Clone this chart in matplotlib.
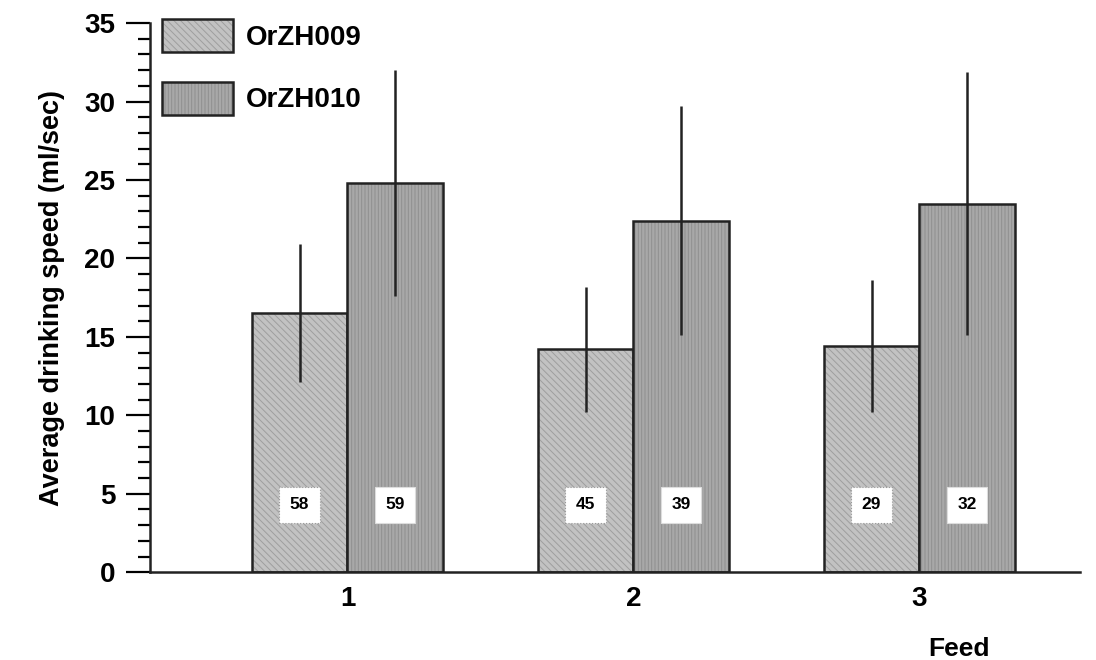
import numpy as np
import matplotlib.pyplot as plt

plt.rcParams['font.family'] = ['Liberation Sans', 'DejaVu Sans']
plt.rcParams['font.weight'] = 'bold'
plt.rcParams['axes.labelweight'] = 'bold'
plt.rcParams['hatch.linewidth'] = 0.7

# Data
feeds = ['1', '2', '3']
orzh009_mean = [16.5, 14.2, 14.4]
orzh009_sd = [4.4, 4.0, 4.2]
orzh010_mean = [24.8, 22.4, 23.5]
orzh010_sd = [7.2, 7.3, 8.4]
orzh009_n = [58, 45, 29]
orzh010_n = [59, 39, 32]

x = np.arange(1, len(feeds) + 1)
w = 0.335

fig = plt.figure(figsize=(10.96, 6.6), dpi=100)
ax = fig.add_axes([0.137, 0.133, 0.848, 0.832])

b1 = ax.bar(x - w / 2, orzh009_mean, w, color='#c2c2c2', edgecolor='#222222',
            hatch='\\\\\\\\\\', linewidth=1.8, label='OrZH009')
b2 = ax.bar(x + w / 2, orzh010_mean, w, color='#a8a8a8', edgecolor='#222222',
            hatch='|||||', linewidth=1.8, label='OrZH010')
# softer hatch lines
for p in b1:
    p._hatch_color = (0.62, 0.62, 0.62, 1.0)
for p in b2:
    p._hatch_color = (0.56, 0.56, 0.56, 1.0)

ax.errorbar(x - w / 2, orzh009_mean, yerr=orzh009_sd, fmt='none',
            ecolor='#222222', elinewidth=1.8, capsize=0)
ax.errorbar(x + w / 2, orzh010_mean, yerr=orzh010_sd, fmt='none',
            ecolor='#222222', elinewidth=1.8, capsize=0)

# sample sizes in white boxes
for xi, n in zip(x - w / 2, orzh009_n):
    ax.text(xi, 4.3, str(n), ha='center', va='center', fontsize=12.5,
            bbox=dict(boxstyle='square,pad=0.6', fc='white', ec='#999999',
                      lw=0.8, ls=':'))
for xi, n in zip(x + w / 2, orzh010_n):
    ax.text(xi, 4.3, str(n), ha='center', va='center', fontsize=12.5,
            bbox=dict(boxstyle='square,pad=0.6', fc='white', ec='#dddddd', lw=0.8))

ax.set_xlim(0.31, 3.56)
ax.set_ylim(0, 35)
ax.set_yticks(np.arange(0, 36, 5))
ax.set_yticks(np.arange(0, 36, 1), minor=True)
ax.set_xticks(x)
ax.set_xticklabels(feeds)
ax.tick_params(axis='x', length=0, labelsize=20, pad=10)
ax.tick_params(axis='y', which='major', length=17, width=1.6, labelsize=20, pad=8)
ax.tick_params(axis='y', which='minor', length=9, width=1.6)

for s in ['top', 'right']:
    ax.spines[s].set_visible(False)
for s in ['left', 'bottom']:
    ax.spines[s].set_linewidth(1.8)
    ax.spines[s].set_color('#222222')

ax.set_ylabel('Average drinking speed (ml/sec)', fontsize=19.5, labelpad=14)
ax.set_xlabel('Feed', fontsize=19, va='top')
ax.xaxis.set_label_coords(0.87, -0.118)

ax.legend(loc='upper left', bbox_to_anchor=(-0.008, 1.042), frameon=False,
          fontsize=20, handlelength=2.55, handleheight=1.45, labelspacing=1.05,
          handletextpad=0.45, borderaxespad=0.3)

fig.savefig('out.png', dpi=100)
